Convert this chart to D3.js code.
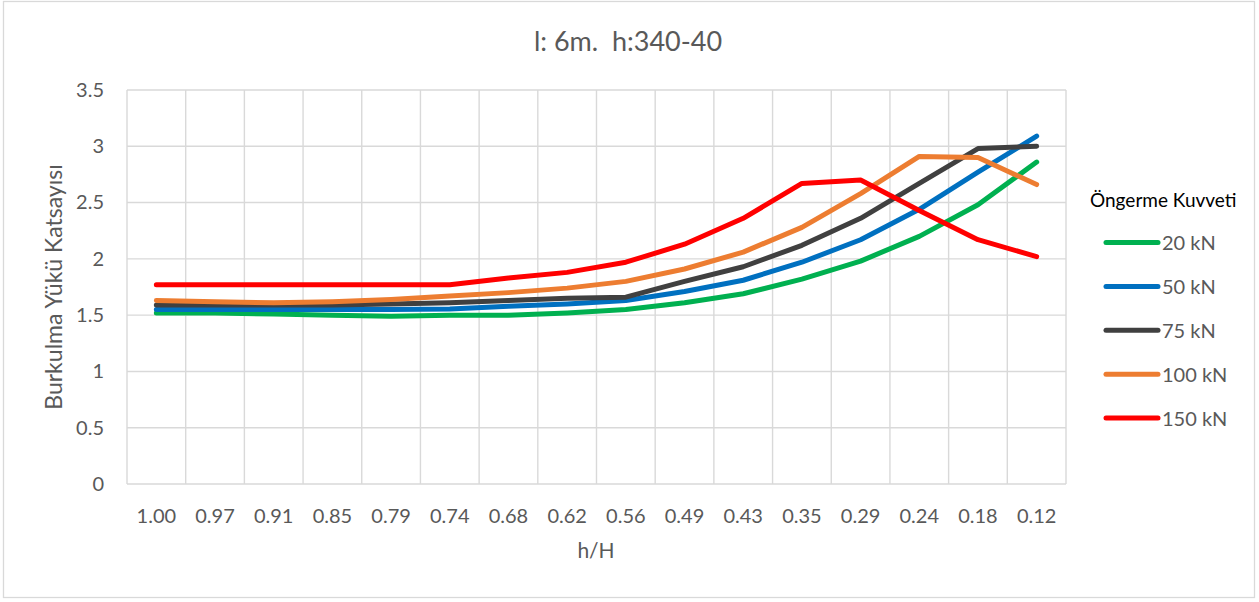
<!DOCTYPE html>
<html>
<head>
<meta charset="utf-8">
<script src="https://cdn.jsdelivr.net/npm/d3@7"></script>
<style>
  html, body { margin: 0; padding: 0; background: #fff; }
  svg { display: block; font-family: Lato, "Open Sans", sans-serif; }
</style>
</head>
<body>
<svg id="chart" width="1259" height="602"></svg>
<script>
const categories = ["1.00","0.97","0.91","0.85","0.79","0.74","0.68","0.62","0.56","0.49","0.43","0.35","0.29","0.24","0.18","0.12"];
const seriesNames = ["20 kN","50 kN","75 kN","100 kN","150 kN"];
const s20  = [1.52,1.52,1.51,1.50,1.49,1.50,1.50,1.52,1.55,1.61,1.69,1.82,1.98,2.20,2.48,2.86];
const s50  = [1.55,1.55,1.55,1.55,1.55,1.555,1.58,1.60,1.63,1.71,1.81,1.97,2.17,2.44,2.77,3.09];
const s75  = [1.59,1.59,1.59,1.59,1.60,1.61,1.63,1.65,1.66,1.80,1.93,2.12,2.36,2.67,2.98,3.00];
const s100 = [1.63,1.62,1.61,1.62,1.64,1.67,1.70,1.74,1.80,1.91,2.06,2.28,2.58,2.91,2.90,2.66];
const s150 = [1.77,1.77,1.77,1.77,1.77,1.77,1.83,1.88,1.97,2.13,2.36,2.67,2.70,2.43,2.17,2.02];
const yTicks = [0,0.5,1,1.5,2,2.5,3,3.5];
const colors = ["#00b050","#0070c0","#404040","#ed7d31","#ff0000"];
const seriesValues = [s20, s50, s75, s100, s150];

const svg = d3.select("#chart");
const plot = {left: 127, right: 1066, top: 90, bottom: 484};

// outer border
svg.append("rect").attr("x", 3.5).attr("y", 1.5).attr("width", 1251).attr("height", 596)
  .attr("fill", "#fff").attr("stroke", "#d9d9d9").attr("stroke-width", 1.3);

const x = d3.scaleBand().domain(categories).range([plot.left, plot.right]).padding(0);
const y = d3.scaleLinear().domain([0, 3.5]).range([plot.bottom, plot.top]);

// horizontal gridlines
svg.append("g").selectAll("line").data(yTicks).join("line")
  .attr("x1", plot.left).attr("x2", plot.right)
  .attr("y1", d => y(d)).attr("y2", d => y(d))
  .attr("stroke", "#d9d9d9").attr("stroke-width", 1.4);

// vertical gridlines at category boundaries
const bounds = categories.map(c => x(c)).concat([x(categories[categories.length-1]) + x.bandwidth()]);
svg.append("g").selectAll("line").data(bounds).join("line")
  .attr("x1", d => d).attr("x2", d => d)
  .attr("y1", plot.top).attr("y2", plot.bottom)
  .attr("stroke", "#d9d9d9").attr("stroke-width", 1.4);

// y axis labels
const yAxis = d3.axisLeft(y).tickValues(yTicks).tickSize(0).tickPadding(0).tickFormat(d => String(d));
const gy = svg.append("g").attr("transform", `translate(104,0)`).call(yAxis);
gy.select(".domain").remove();
gy.selectAll("text").attr("font-size", 20).attr("fill", "#595959").attr("font-family", "Lato, sans-serif");

// x axis labels
const xAxis = d3.axisBottom(x).tickSize(0).tickPadding(0);
const gx = svg.append("g").attr("transform", `translate(0,${plot.bottom})`).call(xAxis);
gx.select(".domain").remove();
gx.selectAll("text").attr("dy", 0).attr("y", 39).attr("font-size", 20).attr("fill", "#595959").attr("font-family", "Lato, sans-serif");

// lines
const line = d3.line().x((d, i) => x(categories[i]) + x.bandwidth() / 2).y(d => y(d));
seriesValues.forEach((vals, k) => {
  svg.append("path").datum(vals)
    .attr("d", line)
    .attr("fill", "none")
    .attr("stroke", colors[k])
    .attr("stroke-width", 5)
    .attr("stroke-linejoin", "round")
    .attr("stroke-linecap", "round");
});

// title
svg.append("text").attr("x", 628).attr("y", 51).attr("text-anchor", "middle")
  .attr("font-size", 27).attr("fill", "#595959").style("white-space", "pre")
  .attr("xml:space", "preserve").text("l: 6m.  h:340-40");

// axis titles
svg.append("text").attr("x", 596).attr("y", 558).attr("text-anchor", "middle")
  .attr("font-size", 21).attr("fill", "#595959").text("h/H");
svg.append("text").attr("transform", "translate(62,287) rotate(-90)").attr("text-anchor", "middle")
  .attr("font-size", 23).attr("fill", "#595959").text("Burkulma Yükü Katsayısı");

// legend
svg.append("text").attr("x", 1090).attr("y", 207).attr("font-size", 19).attr("fill", "#000")
  .text("Öngerme Kuvveti");
const lg = svg.append("g").selectAll("g").data(seriesNames).join("g")
  .attr("transform", (d, i) => `translate(0,${242.5 + i * 43.9})`);
lg.append("line").attr("x1", 1106).attr("x2", 1158).attr("y1", 0).attr("y2", 0)
  .attr("stroke", (d, i) => colors[i]).attr("stroke-width", 5).attr("stroke-linecap", "round");
lg.append("text").attr("x", 1162).attr("y", 7.5).attr("font-size", 20).attr("fill", "#595959")
  .text(d => d);
</script>
</body>
</html>
